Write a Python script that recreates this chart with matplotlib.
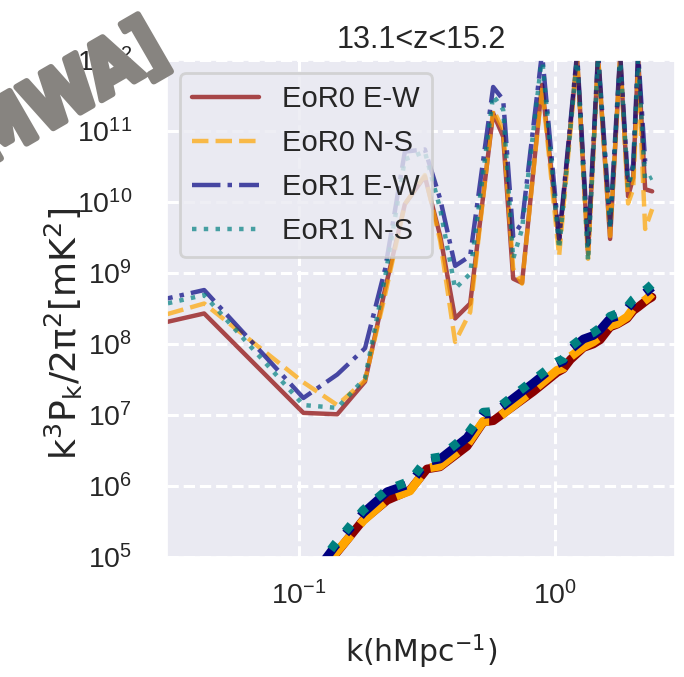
import numpy as np
import matplotlib
matplotlib.use('Agg')
import matplotlib.pyplot as plt
import seaborn as sns
from matplotlib.textpath import TextPath
from matplotlib.patches import PathPatch
from matplotlib.font_manager import FontProperties
from matplotlib.transforms import Affine2D

sns.set_theme(style='darkgrid')
plt.rcParams['font.family'] = ['Liberation Sans', 'DejaVu Sans']
plt.rcParams['grid.linestyle'] = '--'
plt.rcParams['grid.linewidth'] = 2.2
plt.rcParams['grid.color'] = 'white'

title = '13.1<z<15.2'
labels = ['EoR0 E-W', 'EoR0 N-S', 'EoR1 E-W', 'EoR1 N-S']
colors = ['darkred', 'orange', 'navy', 'teal']
styles = ['-', '--', '-.', ':']

# k bins (h/Mpc) and log10 of k^3 P(k) / 2pi^2 [mK^2]
k = [0.025, 0.0426, 0.104, 0.141, 0.181, 0.217, 0.259, 0.310, 0.356, 0.407,
     0.466, 0.573, 0.627, 0.686, 0.743, 0.889, 1.037, 1.219, 1.345, 1.472,
     1.640, 1.795, 1.928, 2.018, 2.110, 2.248, 2.394]
log_ps_eor0_ew = [8.24, 8.43, 7.03, 7.01, 7.47, 8.78, 9.97, 10.36, 9.52, 8.36,
                  8.57, 11.25, 10.92, 8.92, 8.86, 11.65, 9.43, 12.05, 9.27, 12.05,
                  9.48, 12.05, 10.08, 10.34, 12.05, 10.18, 10.15]
log_ps_eor0_ns = [8.33, 8.57, 7.46, 7.14, 7.49, 8.70, 9.97, 10.38, 9.45, 8.03,
                  8.45, 11.30, 11.02, 9.06, 8.85, 11.62, 9.24, 12.05, 9.20, 12.05,
                  9.52, 12.05, 9.98, 10.18, 11.86, 9.62, 9.90]
log_ps_eor1_ew = [8.57, 8.76, 7.24, 7.57, 7.94, 9.06, 10.71, 10.74, 10.04, 9.10,
                  9.24, 11.62, 11.44, 9.52, 9.71, 12.10, 9.48, 12.10, 9.40, 12.10,
                  9.69, 12.10, 10.25, 10.53, 12.10, 10.57, 10.57]
log_ps_eor1_ns = [8.50, 8.69, 7.14, 7.10, 7.52, 8.95, 10.60, 10.71, 9.90, 8.78,
                  8.99, 11.50, 11.30, 9.20, 9.62, 12.05, 9.34, 12.05, 9.17, 12.05,
                  9.62, 12.05, 10.20, 10.48, 12.00, 10.30, 10.35]

# thermal noise level, finer k bins
k_noise = [0.1037, 0.138, 0.178, 0.221, 0.271, 0.316, 0.355, 0.453, 0.524, 0.574,
           0.822, 1.018, 1.077, 1.148, 1.29, 1.41, 1.50, 1.64, 1.75, 1.91,
           2.02, 2.11, 2.29, 2.39]
log_noise_eor0_ew = [4.42, 5.03, 5.52, 5.80, 5.94, 6.24, 6.27, 6.56, 6.90, 6.92,
                     7.33, 7.60, 7.65, 7.78, 7.95, 8.00, 8.06, 8.24, 8.28, 8.36,
                     8.47, 8.52, 8.62, 8.66]
log_noise_eor0_ns = [4.43, 5.04, 5.51, 5.81, 5.93, 6.25, 6.28, 6.58, 6.91, 6.91,
                     7.35, 7.63, 7.66, 7.82, 7.96, 8.03, 8.10, 8.26, 8.29, 8.38,
                     8.50, 8.54, 8.64, 8.71]
log_noise_eor1_ew = [4.55, 5.15, 5.62, 5.92, 6.03, 6.34, 6.38, 6.68, 7.01, 7.02,
                     7.45, 7.72, 7.76, 7.92, 8.07, 8.12, 8.20, 8.36, 8.39, 8.49,
                     8.60, 8.64, 8.74, 8.80]
log_noise_eor1_ns = [4.58, 5.18, 5.66, 5.95, 6.07, 6.38, 6.41, 6.72, 7.04, 7.05,
                     7.49, 7.75, 7.79, 7.96, 8.10, 8.16, 8.23, 8.39, 8.43, 8.52,
                     8.63, 8.68, 8.78, 8.84]

signal = [log_ps_eor0_ew, log_ps_eor0_ns, log_ps_eor1_ew, log_ps_eor1_ns]
noise = [log_noise_eor0_ew, log_noise_eor0_ns, log_noise_eor1_ew, log_noise_eor1_ns]

fig = plt.figure(figsize=(6.84, 6.77), dpi=100)
ax = fig.add_axes([167 / 684, 120 / 677, 508 / 684, 497 / 677])

for lp, lab, c, ls in zip(signal, labels, colors, styles):
    ax.plot(k, 10 ** np.array(lp), color=c, ls=ls, lw=3.2, alpha=0.7, label=lab)
for ln, c, ls in zip(noise, colors, styles):
    ax.plot(k_noise, 10 ** np.array(ln), color=c, ls=ls, lw=6.3)

ax.set_xscale('log')
ax.set_yscale('log')
ax.set_xlim(0.0305, 2.94)
ax.set_ylim(1.07e5, 1e12)
ax.set_yticks([10.0 ** e for e in range(5, 13)])
ax.set_xticks([0.1, 1.0])
ax.minorticks_off()
ax.tick_params(axis='both', labelsize=20.5, colors='#262626')
ax.tick_params(axis='y', pad=19)
ax.tick_params(axis='x', pad=11)
ax.grid(True, which='major', ls='--', lw=2.2, color='white')

ax.set_title(title, fontsize=22, pad=9)
ax.set_xlabel(r'$\mathrm{k(hMpc^{-1})}$', fontsize=21.5)
ax.set_ylabel(r'$\mathrm{k^3P_k/2\pi^2[mK^2]}$', fontsize=26)
ax.xaxis.set_label_coords(0.5, -0.152)
ax.yaxis.set_label_coords(-0.161, 0.449)

leg = ax.legend(loc='upper left', fontsize=21, handlelength=2.3, handletextpad=0.8,
                labelspacing=0.55, borderaxespad=0.45, framealpha=0.8,
                facecolor='#EAEAF2', edgecolor='#cccccc')
leg.get_frame().set_linewidth(2)

# survey stamp in the corner, drawn as a bold outline in pixel space
stamp = TextPath((0, 0), '[MWA]', size=1,
                 prop=FontProperties(family='DejaVu Sans', weight='bold'))
ext = stamp.get_extents()
em = 74
stamp_tr = (Affine2D().translate(-ext.x1, 0).scale(em * 0.88, em)
            .rotate_deg(30).translate(166, 677 - 63))
fig.add_artist(PathPatch(stamp, transform=stamp_tr, facecolor='#878480',
                         edgecolor='#878480', lw=4.5, joinstyle='round', zorder=10))

fig.savefig('out.png', dpi=100)
